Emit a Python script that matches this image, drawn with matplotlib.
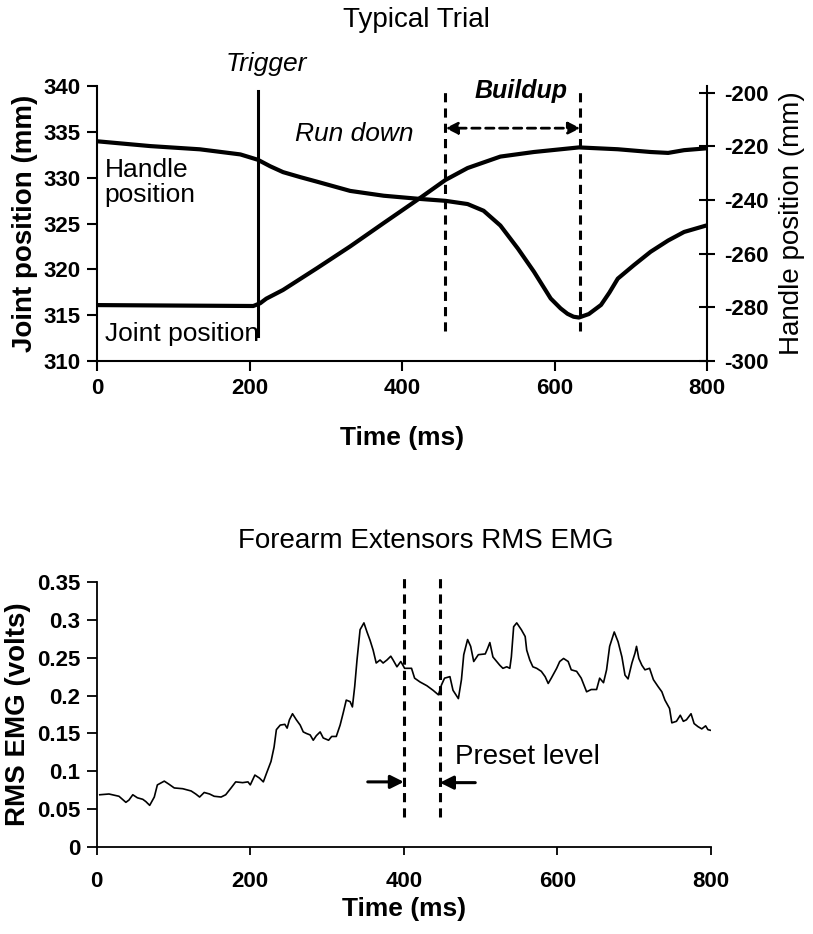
import numpy as np
import matplotlib
matplotlib.use("Agg")
import matplotlib.pyplot as plt
from matplotlib.font_manager import FontProperties

plt.rcParams['font.family'] = ['Liberation Sans', 'DejaVu Sans']
plt.rcParams['axes.unicode_minus'] = False

# ---- top panel: typical trial ----
handle_t = [0, 70, 135, 188, 211, 227, 244, 267, 289, 332, 376, 424, 457, 486, 507,
            529, 552, 573, 595, 608, 617, 625, 632, 645, 661, 672, 683, 704, 726,
            749, 770, 799]
handle_mm = [-218.1, -219.9, -221.1, -223.0, -225.0, -227.4, -229.6, -231.5, -233.2,
             -236.6, -238.4, -239.6, -240.3, -241.5, -244.0, -249.5, -258.1, -266.7,
             -276.7, -280.4, -282.4, -283.5, -283.8, -282.5, -279.1, -274.5, -269.3,
             -264.3, -259.3, -255.1, -251.9, -249.5]

joint_t = [0, 100, 205, 214, 222, 244, 289, 332, 376, 424, 457, 486, 529, 573, 632,
           683, 726, 749, 770, 799]
joint_mm = [316.1, 316.05, 316.0, 316.3, 316.8, 317.75, 320.15, 322.5, 325.05, 327.8,
            329.75, 331.05, 332.3, 332.8, 333.3, 333.1, 332.8, 332.7, 333.0, 333.2]

trigger_t = 211
buildup_start = 457
buildup_end = 634

# ---- bottom panel: RMS EMG ----
emg_t = [4, 16, 29, 38, 42, 47, 53, 60, 64, 69, 75, 79, 88, 94, 101, 112, 123, 129,
         134, 140, 147, 153, 162, 168, 175, 181, 190, 197, 200, 206, 212, 217, 221,
         227, 231, 234, 239, 245, 248, 251, 255, 260, 265, 269, 273, 278, 282, 286,
         291, 295, 302, 306, 312, 317, 321, 325, 330, 333, 336, 339, 343, 348, 352,
         356, 360, 364, 369, 373, 378, 383, 386, 391, 396, 401, 410, 414, 421, 430,
         438, 445, 449, 453, 460, 464, 471, 475, 478, 483, 487, 491, 497, 506, 509,
         512, 516, 521, 525, 529, 534, 538, 540, 543, 547, 553, 558, 560, 564, 568,
         573, 579, 584, 588, 592, 599, 603, 608, 614, 618, 625, 631, 638, 644, 651,
         655, 660, 664, 668, 674, 679, 684, 688, 692, 697, 701, 703, 706, 710, 714,
         720, 725, 731, 736, 740, 746, 749, 755, 760, 764, 768, 774, 778, 783, 788,
         793, 796, 800]
emg_v = [0.069, 0.070, 0.067, 0.059, 0.062, 0.069, 0.065, 0.063, 0.060, 0.055,
         0.066, 0.082, 0.087, 0.083, 0.078, 0.077, 0.074, 0.070, 0.066, 0.072,
         0.070, 0.067, 0.066, 0.069, 0.078, 0.086, 0.085, 0.086, 0.082, 0.095,
         0.091, 0.086, 0.097, 0.113, 0.132, 0.155, 0.161, 0.162, 0.157, 0.168,
         0.176, 0.168, 0.161, 0.152, 0.150, 0.148, 0.141, 0.147, 0.152, 0.144,
         0.141, 0.146, 0.146, 0.161, 0.177, 0.194, 0.192, 0.185, 0.212, 0.247,
         0.287, 0.296, 0.284, 0.273, 0.260, 0.243, 0.247, 0.243, 0.247, 0.252,
         0.247, 0.238, 0.245, 0.236, 0.236, 0.223, 0.218, 0.213, 0.207, 0.201,
         0.214, 0.223, 0.225, 0.207, 0.196, 0.221, 0.254, 0.274, 0.265, 0.245,
         0.254, 0.255, 0.262, 0.270, 0.251, 0.245, 0.240, 0.236, 0.238, 0.236,
         0.251, 0.291, 0.296, 0.287, 0.278, 0.260, 0.247, 0.238, 0.236, 0.232,
         0.225, 0.216, 0.223, 0.236, 0.245, 0.249, 0.245, 0.234, 0.232, 0.223,
         0.205, 0.208, 0.208, 0.223, 0.217, 0.234, 0.265, 0.284, 0.271, 0.251,
         0.227, 0.222, 0.243, 0.256, 0.265, 0.249, 0.240, 0.234, 0.236, 0.221,
         0.212, 0.205, 0.194, 0.183, 0.164, 0.166, 0.174, 0.166, 0.168, 0.176,
         0.163, 0.159, 0.156, 0.160, 0.155, 0.154]

preset_start = 400
preset_end = 447

fig = plt.figure(figsize=(8.13, 9.34), dpi=100)

tick_font = FontProperties(family='Liberation Sans', weight='bold', size=16)

# top axes
ax1 = fig.add_axes([97 / 813, 1 - 361 / 934, 610 / 813, 275 / 934])
ax1.plot(joint_t, joint_mm, color='black', lw=3.0, solid_capstyle='round',
         solid_joinstyle='round')
ax1.set_xlim(0, 800)
ax1.set_ylim(310, 340)
ax1.set_xticks([0, 200, 400, 600, 800])
ax1.set_yticks([310, 315, 320, 325, 330, 335, 340])
ax1.spines['top'].set_visible(False)
ax1.spines['right'].set_visible(False)
for s in ['left', 'bottom']:
    ax1.spines[s].set_linewidth(1.5)
ax1.tick_params(direction='out', length=7, width=1.5, pad=5)
for lab in ax1.get_xticklabels() + ax1.get_yticklabels():
    lab.set_fontproperties(tick_font)
ax1.set_xlabel('Time (ms)', fontsize=19, fontweight='bold', labelpad=20)
ax1.set_ylabel('Joint position (mm)', fontsize=20, fontweight='bold', labelpad=4)

ax2 = ax1.twinx()
ax2.plot(handle_t, handle_mm, color='black', lw=3.0, solid_capstyle='round',
         solid_joinstyle='round')
ax2.set_ylim(-299.5, -197.5)
ax2.set_yticks([-300, -280, -260, -240, -220, -200])
for s in ['top', 'left', 'bottom']:
    ax2.spines[s].set_visible(False)
ax2.spines['right'].set_linewidth(1.5)
ax2.tick_params(direction='inout', length=12, width=1.5, pad=6)
for lab in ax2.get_yticklabels():
    lab.set_fontproperties(tick_font)
ax2.set_ylabel('Handle position (mm)', fontsize=20, labelpad=8)

# markers in top panel
ax1.plot([trigger_t, trigger_t], [312.7, 339.5], color='black', lw=2.2, clip_on=False)
for xv in [buildup_start, buildup_end]:
    ax1.plot([xv, xv], [313.3, 339.3], color='black', lw=2.2, ls=(0, (3, 2)), clip_on=False)
ax1.annotate('', xy=(buildup_start, 335.4), xytext=(buildup_end, 335.4),
             arrowprops=dict(arrowstyle='<|-|>', color='black', lw=2.0, ls=(0, (3, 2)),
                             mutation_scale=18, shrinkA=0, shrinkB=0))
ax1.text(222, 342.4, 'Trigger', fontsize=19, style='italic', ha='center', va='center',
         clip_on=False)
ax1.text(260, 334.8, 'Run down', fontsize=19, style='italic', ha='left', va='center')
ax1.text(556, 339.5, 'Buildup', fontsize=18, style='italic', fontweight='bold',
         ha='center', va='center', clip_on=False)
ax1.text(10, 329.5, 'Handle\nposition', fontsize=19, ha='left', va='center', linespacing=1.05)
ax1.text(10, 312.9, 'Joint position', fontsize=19, ha='left', va='center')

fig.text(416 / 813, 1 - 20 / 934, 'Typical Trial', fontsize=20, ha='center', va='center')

# bottom axes
ax3 = fig.add_axes([96.7 / 813, 1 - 847 / 934, 614.3 / 813, 265 / 934])
ax3.plot(emg_t, emg_v, color='black', lw=1.2)
ax3.set_xlim(0, 800)
ax3.set_ylim(0, 0.35)
ax3.set_xticks([0, 200, 400, 600, 800])
ax3.set_yticks([0, 0.05, 0.1, 0.15, 0.2, 0.25, 0.3, 0.35])
ax3.set_yticklabels(['0', '0.05', '0.1', '0.15', '0.2', '0.25', '0.3', '0.35'])
ax3.spines['top'].set_visible(False)
ax3.spines['right'].set_visible(False)
for s in ['left', 'bottom']:
    ax3.spines[s].set_linewidth(1.3)
ax3.tick_params(axis='y', direction='out', length=7, width=1.3, pad=5)
ax3.tick_params(axis='x', direction='out', length=6, width=1.3, pad=11)
for lab in ax3.get_xticklabels() + ax3.get_yticklabels():
    lab.set_fontproperties(tick_font)
ax3.set_xlabel('Time (ms)', fontsize=19, fontweight='bold', labelpad=4)
ax3.set_ylabel('RMS EMG (volts)', fontsize=20, fontweight='bold', labelpad=4)

for xv in [preset_start, preset_end]:
    ax3.plot([xv, xv], [0.04, 0.356], color='black', lw=2.2, ls=(0, (3, 2)), clip_on=False)
ax3.annotate('', xy=(preset_start, 0.086), xytext=(353, 0.086),
             arrowprops=dict(arrowstyle='-|>', color='black', lw=2.2,
                             mutation_scale=20, shrinkA=0, shrinkB=0))
ax3.annotate('', xy=(preset_end, 0.085), xytext=(493, 0.085),
             arrowprops=dict(arrowstyle='-|>', color='black', lw=2.2,
                             mutation_scale=20, shrinkA=0, shrinkB=0))
ax3.text(466, 0.119, 'Preset level', fontsize=20, ha='left', va='center')

fig.text(426 / 813, 1 - 541 / 934, 'Forearm Extensors RMS EMG', fontsize=20,
         ha='center', va='center')

fig.savefig('out.png', dpi=100)
